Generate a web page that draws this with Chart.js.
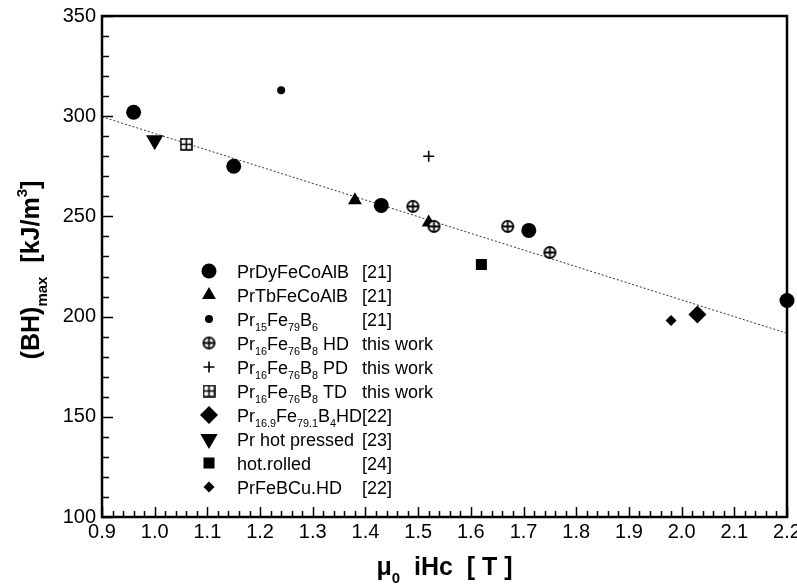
<!DOCTYPE html>
<html>
<head>
<meta charset="utf-8">
<script src="https://cdn.jsdelivr.net/npm/chart.js@4/dist/chart.umd.min.js"></script>
<style>
  html, body { margin: 0; padding: 0; background: #fff; }
  #wrap { width: 797px; height: 587px; }
</style>
</head>
<body>
<div id="wrap"><canvas id="c" width="797" height="587"></canvas></div>
<script>
// Axis ticks
const xTickValues = [0.9, 1.0, 1.1, 1.2, 1.3, 1.4, 1.5, 1.6, 1.7, 1.8, 1.9, 2.0, 2.1, 2.2];
const yTickValues = [100, 150, 200, 250, 300, 350];

// Coercivity (T) and energy product (kJ/m3) per material
const dyX = [0.96, 1.15, 1.43, 1.71, 2.20];
const dyY = [302, 275, 255.5, 243, 208];
const tbX = [1.38, 1.52];
const tbY = [258, 247];
const pr15X = [1.24];
const pr15Y = [313];
const hdX = [1.49, 1.53, 1.67, 1.75];
const hdY = [255, 245, 245, 232];
const pdX = [1.52];
const pdY = [280];
const tdX = [1.06];
const tdY = [286];
const pr169X = [2.03];
const pr169Y = [201];
const hpX = [1.00];
const hpY = [288];
const hrX = [1.62];
const hrY = [226];
const cuX = [1.98];
const cuY = [198];

// Linear trend line end points
const fitX = [0.9, 2.2];
const fitY = [299.7, 191.7];

const seriesNames = [
  "PrDyFeCoAlB", "PrTbFeCoAlB", "Pr_{15}Fe_{79}B_{6}",
  "Pr_{16}Fe_{76}B_{8} HD", "Pr_{16}Fe_{76}B_{8} PD", "Pr_{16}Fe_{76}B_{8} TD",
  "Pr_{16.9}Fe_{79.1}B_{4}HD", "Pr hot pressed", "hot.rolled", "PrFeBCu.HD"
];
const seriesRefs = ["[21]", "[21]", "[21]", "this work", "this work", "this work", "[22]", "[23]", "[24]", "[22]"];

const FONT = "'Liberation Sans', Arial, sans-serif";

function pts(xs, ys) { return xs.map((v, i) => ({ x: v, y: ys[i] })); }

// Marker images for the open symbols
function circlePlus() {
  const c = document.createElement('canvas');
  c.width = c.height = 15;
  const g = c.getContext('2d');
  g.fillStyle = '#fff'; g.strokeStyle = '#000'; g.lineWidth = 1.8;
  g.beginPath(); g.arc(7.5, 7.5, 5.6, 0, Math.PI * 2); g.fill(); g.stroke();
  g.beginPath(); g.moveTo(1.9, 7.5); g.lineTo(13.1, 7.5); g.moveTo(7.5, 1.9); g.lineTo(7.5, 13.1); g.stroke();
  return c;
}
function squarePlus() {
  const c = document.createElement('canvas');
  c.width = c.height = 13;
  const g = c.getContext('2d');
  g.fillStyle = '#fff'; g.strokeStyle = '#000'; g.lineWidth = 1.6;
  g.fillRect(1, 1, 11, 11); g.strokeRect(1, 1, 11, 11);
  g.beginPath(); g.moveTo(1, 6.5); g.lineTo(12, 6.5); g.moveTo(6.5, 1); g.lineTo(6.5, 12); g.stroke();
  return c;
}

const markerDefs = [
  { style: 'circle', r: 7.5 },
  { style: 'triangle', r: 8 },
  { style: 'circle', r: 4 },
  { style: circlePlus(), r: 6 },
  { style: 'cross', r: 5.5, bw: 1.6 },
  { style: squarePlus(), r: 6 },
  { style: 'rectRot', r: 9 },
  { style: 'triangle', r: 10, rot: 180 },
  { style: 'rect', r: 7.8 },
  { style: 'rectRot', r: 5.5 }
];
const seriesData = [
  pts(dyX, dyY), pts(tbX, tbY), pts(pr15X, pr15Y), pts(hdX, hdY), pts(pdX, pdY),
  pts(tdX, tdY), pts(pr169X, pr169Y), pts(hpX, hpY), pts(hrX, hrY), pts(cuX, cuY)
];

const datasets = [{
  type: 'line',
  data: pts(fitX, fitY),
  borderColor: '#333',
  borderWidth: 1,
  borderDash: [2, 2],
  pointRadius: 0,
  fill: false,
  order: 20
}];
seriesData.forEach((d, i) => {
  const m = markerDefs[i];
  datasets.push({
    type: 'scatter',
    label: seriesNames[i],
    data: d,
    pointStyle: m.style,
    pointRadius: m.r,
    pointHoverRadius: m.r,
    pointRotation: m.rot || 0,
    backgroundColor: '#000',
    borderColor: '#000',
    pointBorderWidth: m.bw || 0,
    clip: false,
    order: 10 - i
  });
});

// Text with _{sub} and ^{sup} parts
function parseRich(s) {
  const out = [];
  const re = /([_^])\{([^}]*)\}/g;
  let last = 0, m;
  while ((m = re.exec(s))) {
    if (m.index > last) out.push({ t: s.slice(last, m.index), k: 'n' });
    out.push({ t: m[2], k: m[1] === '_' ? 'sub' : 'sup' });
    last = re.lastIndex;
  }
  if (last < s.length) out.push({ t: s.slice(last), k: 'n' });
  return out;
}
function drawRich(ctx, s, x, y, size, bold, align, subScale) {
  const parts = parseRich(s);
  const w = bold ? 'bold ' : '';
  const ss = size * (subScale || 0.62);
  const fontFor = p => w + (p.k === 'n' ? size : ss) + 'px ' + FONT;
  let total = 0;
  parts.forEach(p => { ctx.font = fontFor(p); total += ctx.measureText(p.t).width; });
  let cx = align === 'center' ? x - total / 2 : x;
  ctx.textAlign = 'left';
  ctx.textBaseline = 'alphabetic';
  parts.forEach(p => {
    ctx.font = fontFor(p);
    const dy = p.k === 'sub' ? size * 0.3 : (p.k === 'sup' ? -size * 0.48 : 0);
    ctx.fillText(p.t, cx, y + dy);
    cx += ctx.measureText(p.t).width;
  });
}

const decorations = {
  id: 'decorations',
  afterDraw(chart) {
    const { ctx, chartArea: a, scales: { x, y } } = chart;
    ctx.save();
    ctx.strokeStyle = '#000';
    ctx.fillStyle = '#000';
    ctx.lineWidth = 1.5;
    // inward tick marks
    ctx.beginPath();
    for (let i = 0; i <= 65; i++) {
      const v = 0.9 + i * 0.02;
      const px = Math.round(x.getPixelForValue(v)) + 0.5;
      const len = i % 5 === 0 ? 10 : 6;
      ctx.moveTo(px, a.bottom); ctx.lineTo(px, a.bottom - len);
    }
    for (let v = 100; v <= 350; v += 10) {
      const py = Math.round(y.getPixelForValue(v)) + 0.5;
      const len = v % 50 === 0 ? 11 : 7;
      ctx.moveTo(a.left, py); ctx.lineTo(a.left + len, py);
    }
    ctx.stroke();
    // frame
    ctx.lineWidth = 2.5;
    ctx.strokeRect(a.left, a.top, a.right - a.left, a.bottom - a.top);

    // axis titles
    drawRich(ctx, 'μ_{0}  iHc  [ T ]', (a.left + a.right) / 2, 575, 25, true, 'center', 0.6);
    ctx.save();
    ctx.translate(39, 270);
    ctx.rotate(-Math.PI / 2);
    drawRich(ctx, '(BH)_{max}  [kJ/m^{3}]', 0, 0, 25, true, 'center', 0.6);
    ctx.restore();

    // legend
    const lx = 209, tx = 237, rx = 362, ly0 = 271, step = 24;
    const drawPoint = Chart.helpers && Chart.helpers.drawPoint;
    seriesNames.forEach((name, i) => {
      const ly = ly0 + i * step;
      const m = markerDefs[i];
      ctx.save();
      ctx.fillStyle = '#000'; ctx.strokeStyle = '#000';
      ctx.lineWidth = m.bw || 0;
      drawPoint(ctx, { pointStyle: m.style, radius: m.r, rotation: m.rot || 0, borderWidth: m.bw || 0 }, lx, ly);
      ctx.restore();
      ctx.fillStyle = '#000';
      drawRich(ctx, name, tx, ly + 6.5, 18, false, 'left', 0.6);
      drawRich(ctx, seriesRefs[i], rx, ly + 6.5, 18, false, 'left');
    });
    ctx.restore();
  }
};

new Chart(document.getElementById('c'), {
  data: { datasets },
  options: {
    responsive: false,
    animation: false,
    devicePixelRatio: 1,
    layout: { padding: { left: 0, right: 8, top: 16, bottom: 0 } },
    plugins: { legend: { display: false }, tooltip: { enabled: false } },
    scales: {
      x: {
        type: 'linear', min: 0.9, max: 2.2,
        afterBuildTicks: s => { s.ticks = xTickValues.map(v => ({ value: v })); },
        afterFit: s => { s.height = 70; s.paddingLeft = 0; s.paddingRight = 0; },
        ticks: {
          callback: v => Number(v).toFixed(1),
          font: { family: FONT, size: 20 }, color: '#000', padding: 3,
          maxRotation: 0, autoSkip: false
        },
        grid: { display: false, drawTicks: false },
        border: { display: false }
      },
      y: {
        type: 'linear', min: 100, max: 350,
        afterBuildTicks: s => { s.ticks = yTickValues.map(v => ({ value: v })); },
        afterFit: s => { s.width = 102; s.paddingTop = 0; s.paddingBottom = 0; },
        ticks: {
          callback: v => String(v),
          font: { family: FONT, size: 20 }, color: '#000', padding: 6, autoSkip: false
        },
        grid: { display: false, drawTicks: false },
        border: { display: false }
      }
    }
  },
  plugins: [decorations]
});
</script>
</body>
</html>
